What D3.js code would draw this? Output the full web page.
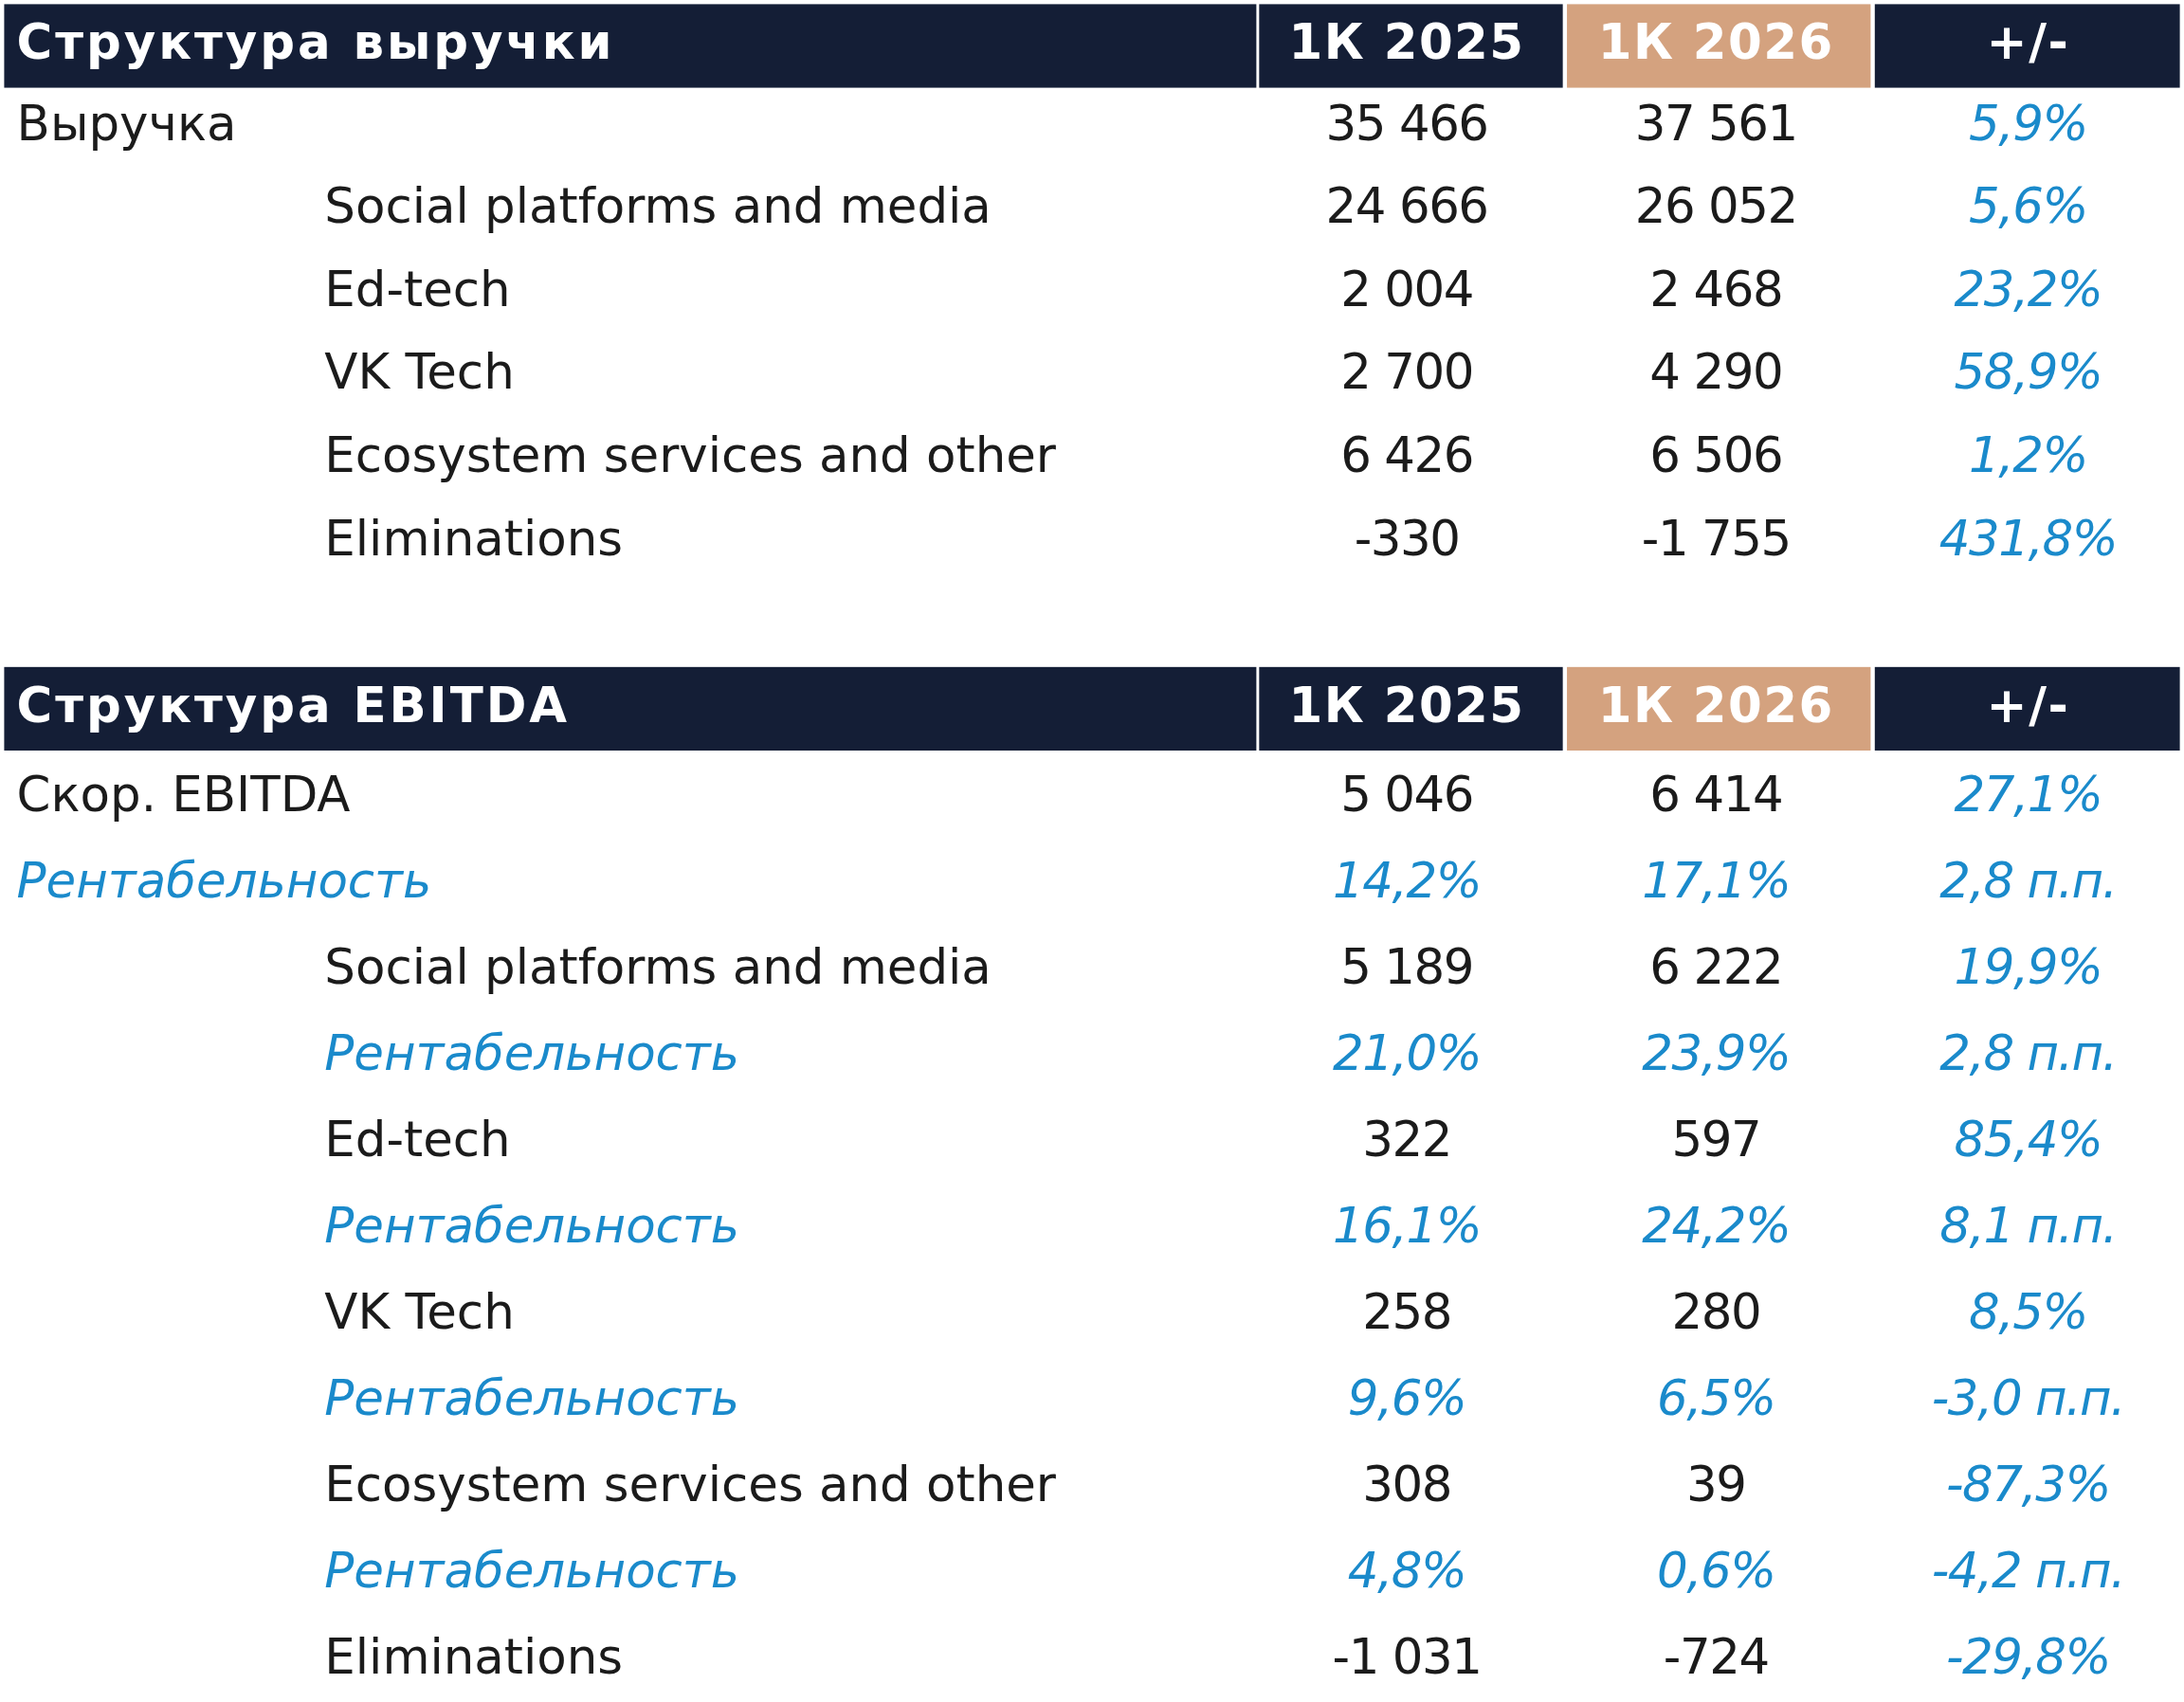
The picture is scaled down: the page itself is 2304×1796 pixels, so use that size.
<!DOCTYPE html>
<html><head><meta charset="utf-8">
<script src="https://cdn.jsdelivr.net/npm/d3@7"></script>
<style>body{margin:0;background:#fff}</style></head>
<body><svg id="c" width="2304" height="1796"></svg>
<script>
const headers = ["1К 2025","1К 2026","+/-"];
const sectionTitles = ["Структура выручки","Структура EBITDA"];
const revLabels = ["Выручка","Social platforms and media","Ed-tech","VK Tech","Ecosystem services and other","Eliminations"];
const revLevel = [0,1,1,1,1,1];
const rev2025 = ["35 466","24 666","2 004","2 700","6 426","-330"];
const rev2026 = ["37 561","26 052","2 468","4 290","6 506","-1 755"];
const revChg = ["5,9%","5,6%","23,2%","58,9%","1,2%","431,8%"];
const ebLabels = ["Скор. EBITDA","Рентабельность","Social platforms and media","Рентабельность","Ed-tech","Рентабельность","VK Tech","Рентабельность","Ecosystem services and other","Рентабельность","Eliminations"];
const ebLevel = [0,0,1,1,1,1,1,1,1,1,1];
const ebMargin = [false,true,false,true,false,true,false,true,false,true,false];
const eb2025 = ["5 046","14,2%","5 189","21,0%","322","16,1%","258","9,6%","308","4,8%","-1 031"];
const eb2026 = ["6 414","17,1%","6 222","23,9%","597","24,2%","280","6,5%","39","0,6%","-724"];
const ebChg = ["27,1%","2,8 п.п.","19,9%","2,8 п.п.","85,4%","8,1 п.п.","8,5%","-3,0 п.п.","-87,3%","-4,2 п.п.","-29,8%"];

const k = 2304/1568;
const svg = d3.select("#c");
const g = svg.append("g").attr("transform",`scale(${k})`);
const F = "'DejaVu Sans', 'Noto Sans', sans-serif";
const navy="#141e36", tan="#d4a27f", blue="#1a8acb", dark="#1b1b1b";
const colX = d3.scaleOrdinal().domain(["label","c1","c2","c3"]).range([3,904,1125,1346]);
const colW = d3.scaleOrdinal().domain(["label","c1","c2","c3"]).range([899,218,218,219]);
const colC = d3.scaleOrdinal().domain(["c1","c2","c3"]).range([1010,1232,1456]);
const indent = d3.scaleOrdinal().domain([0,1]).range([12,233]);

function section(title, headerTop, rowY, labels, level, margin, a, b, c){
  const hh = 62;
  const cols=["label","c1","c2","c3"];
  g.selectAll(null).data(cols).enter().append("rect")
    .attr("x",d=>colX(d)).attr("y",headerTop).attr("width",d=>colW(d)).attr("height",hh-2)
    .attr("fill",d=>d==="c2"?tan:navy);
  g.append("text").attr("x",12).attr("y",headerTop+hh/2-1).attr("dominant-baseline","middle")
    .attr("font-family",F).attr("font-weight",700).attr("font-size",35).attr("letter-spacing",2)
    .attr("fill","#fff").text(title);
  g.selectAll(null).data(headers).enter().append("text")
    .attr("x",(d,i)=>colC(cols[i+1])).attr("y",headerTop+hh/2-1).attr("text-anchor","middle")
    .attr("dominant-baseline","middle").attr("font-family",F).attr("font-weight",700)
    .attr("font-size",35).attr("letter-spacing",1).attr("fill","#fff").text(d=>d);
  const rows = labels.map((l,i)=>({l,lev:level[i],m:margin[i],a:a[i],b:b[i],c:c[i],i}));
  const r = g.selectAll(null).data(rows).enter().append("g")
    .attr("transform",d=>`translate(0,${rowY(d.i)})`);
  r.append("text").attr("x",d=>indent(d.lev)).attr("dominant-baseline","middle")
    .attr("font-family",F).attr("font-size",35).attr("font-style",d=>d.m?"italic":"normal")
    .attr("fill",d=>d.m?blue:dark).text(d=>d.l);
  [["a","c1"],["b","c2"],["c","c3"]].forEach(([key,col])=>{
    r.append("text").attr("x",colC(col)).attr("text-anchor","middle").attr("dominant-baseline","middle")
      .attr("font-family",F).attr("font-size",35).attr("letter-spacing",-1)
      .attr("font-style",d=>(d.m||key==="c")?"italic":"normal")
      .attr("fill",d=>(d.m||key==="c")?blue:dark).text(d=>d[key]);
  });
}
const y1 = d3.scaleLinear().domain([0,5]).range([91,389]);
section(sectionTitles[0],3,y1,revLabels,revLevel,revLevel.map(()=>false),rev2025,rev2026,revChg);
const y2 = d3.scaleLinear().domain([0,10]).range([573,1192]);
section(sectionTitles[1],479,y2,ebLabels,ebLevel,ebMargin,eb2025,eb2026,ebChg);
</script></body></html>
